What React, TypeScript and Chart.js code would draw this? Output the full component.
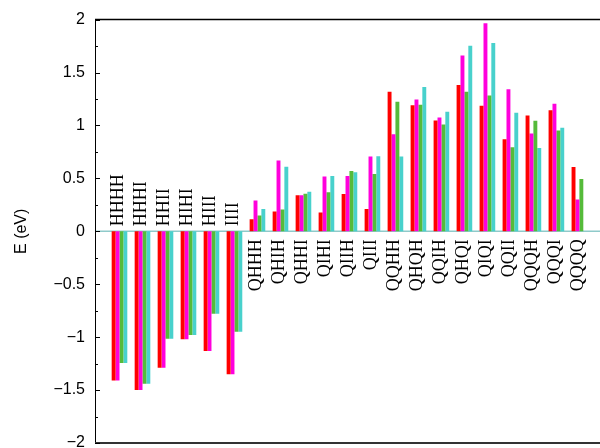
import React, { useEffect, useRef } from 'react';
import { Chart, registerables } from 'chart.js';

Chart.register(...registerables);

// Category labels (read bottom-to-top, rotated 90° counter-clockwise)
const categories = [
  'HHHH', 'HHHI', 'HHII', 'HIHI', 'HIII', 'IIII',
  'QHHH', 'QHIH', 'QHHI', 'QIHI', 'QIIH', 'QIII',
  'QQHH', 'QHQH', 'QQIH', 'QHQI', 'QIQI', 'QQII',
  'QQQH', 'QQQI', 'QQQQ',
];

const redValues = [
  -1.41, -1.5, -1.29, -1.02, -1.13, -1.35,
  0.115, 0.187, 0.34, 0.178, 0.352, 0.21,
  1.318, 1.19, 1.047, 1.383, 1.187, 0.869,
  1.093, 1.143, 0.607,
];
const magentaValues = [
  -1.41, -1.5, -1.29, -1.02, -1.13, -1.35,
  0.29, 0.67, 0.34, 0.517, 0.523, 0.707,
  0.916, 1.246, 1.075, 1.66, 1.965, 1.343,
  0.925, 1.206, 0.3,
];
const greenValues = [
  -1.245, -1.44, -1.015, -0.98, -0.78, -0.95,
  0.15, 0.205, 0.355, 0.37, 0.57, 0.542,
  1.224, 1.196, 1.009, 1.318, 1.283, 0.794,
  1.044, 0.953, 0.495,
];
const cyanValues: (number | null)[] = [
  -1.245, -1.44, -1.015, -0.98, -0.78, -0.95,
  0.21, 0.61, 0.374, 0.523, 0.558, 0.71,
  0.707, 1.364, 1.13, 1.754, 1.78, 1.12,
  0.788, 0.978, null,
];

const yMin = -2;
const yMax = 2;
const yStep = 0.5;
const yMinorStep = 0.25;
const yTitle = 'E (eV)';

const toPoints = (vals: (number | null)[]) =>
  vals.map((v, i) => ({ x: i, y: v }));

const fmt = (v: number) => (v < 0 ? '\u2212' + String(Math.abs(v)) : String(v));

const decorPlugin = {
  id: 'decor',
  beforeDatasetsDraw(chart: any) {
    const { ctx, chartArea, scales } = chart;
    const y0 = scales.y.getPixelForValue(0);
    ctx.save();
    ctx.strokeStyle = '#8fcaca';
    ctx.lineWidth = 1.5;
    ctx.beginPath();
    ctx.moveTo(chartArea.left, y0);
    ctx.lineTo(chart.width, y0);
    ctx.stroke();
    ctx.restore();
  },
  afterDraw(chart: any) {
    const { ctx, chartArea, scales } = chart;
    const { left, top, bottom } = chartArea;
    ctx.save();
    // frame
    ctx.strokeStyle = '#000';
    ctx.lineWidth = 1.5;
    ctx.beginPath();
    ctx.moveTo(left, top);
    ctx.lineTo(chart.width, top);
    ctx.stroke();
    ctx.lineWidth = 1;
    ctx.beginPath();
    ctx.moveTo(left + 0.5, top);
    ctx.lineTo(left + 0.5, bottom);
    ctx.stroke();
    ctx.strokeStyle = '#333';
    ctx.lineWidth = 2;
    ctx.beginPath();
    ctx.moveTo(left, bottom);
    ctx.lineTo(chart.width, bottom);
    ctx.stroke();
    // inward ticks
    ctx.strokeStyle = '#000';
    ctx.lineWidth = 1;
    for (let v = yMin; v <= yMax + 1e-9; v += yMinorStep) {
      const py = Math.round(scales.y.getPixelForValue(v)) + 0.5;
      const major = Math.abs(v / yStep - Math.round(v / yStep)) < 1e-6;
      ctx.beginPath();
      ctx.moveTo(left, py);
      ctx.lineTo(left + (major ? 5 : 3), py);
      ctx.stroke();
    }
    // category labels near zero line
    const y0 = scales.y.getPixelForValue(0);
    ctx.fillStyle = '#000';
    ctx.font = '18px "Liberation Serif", "Times New Roman", serif';
    ctx.textBaseline = 'middle';
    categories.forEach((label, i) => {
      const px = scales.x.getPixelForValue(i);
      const vals = [redValues[i], magentaValues[i], greenValues[i], cyanValues[i]].filter(
        (v) => v !== null
      ) as number[];
      const negative = Math.max(...vals) < 0;
      ctx.save();
      if (negative) {
        ctx.translate(px - 1, y0 - 5);
        ctx.rotate(-Math.PI / 2);
        ctx.textAlign = 'left';
      } else {
        ctx.translate(px - 1, y0 + 8);
        ctx.rotate(-Math.PI / 2);
        ctx.textAlign = 'right';
      }
      ctx.fillText(label, 0, 0);
      ctx.restore();
    });
    ctx.restore();
  },
};

export default function App() {
  const ref = useRef<HTMLCanvasElement>(null);
  useEffect(() => {
    if (!ref.current) return;
    const chart = new Chart(ref.current, {
      type: 'bar',
      data: {
        datasets: [
          { label: 'red', data: toPoints(redValues), backgroundColor: '#ff0000' },
          { label: 'magenta', data: toPoints(magentaValues), backgroundColor: '#ff00dc' },
          { label: 'green', data: toPoints(greenValues), backgroundColor: '#55bb3a' },
          { label: 'turquoise', data: toPoints(cyanValues), backgroundColor: '#48d1cc' },
        ] as any,
      },
      options: {
        animation: false,
        responsive: false,
        devicePixelRatio: 1,
        layout: { padding: { top: 15, bottom: 27, left: 0, right: 16 } },
        datasets: { bar: { categoryPercentage: 0.68, barPercentage: 1, borderWidth: 0 } },
        plugins: { legend: { display: false }, tooltip: { enabled: false } },
        scales: {
          x: {
            type: 'linear',
            min: -1.065,
            max: 21.07,
            offset: false,
            display: false,
            grid: { display: false },
          },
          y: {
            min: yMin,
            max: yMax,
            ticks: {
              stepSize: yStep,
              color: '#000',
              padding: 10,
              font: { family: '"Liberation Sans", Arial, sans-serif', size: 16 },
              callback: (v: any) => fmt(Number(v)),
            },
            grid: { display: false, drawTicks: false },
            border: { display: false },
            title: {
              display: true,
              text: yTitle,
              color: '#000',
              font: { family: '"Liberation Sans", Arial, sans-serif', size: 16 },
              padding: { top: 12, bottom: 0 },
            },
            afterFit: (s: any) => {
              s.width = 95;
            },
          },
        },
      } as any,
      plugins: [decorPlugin],
    });
    return () => chart.destroy();
  }, []);
  return (
    <div
      style={{
        position: 'fixed',
        left: 0,
        top: 0,
        width: 600,
        height: 448,
        overflow: 'hidden',
        background: '#fff',
      }}
    >
      <canvas ref={ref} width={620} height={470} style={{ display: 'block', width: 620, height: 470 }} />
    </div>
  );
}
